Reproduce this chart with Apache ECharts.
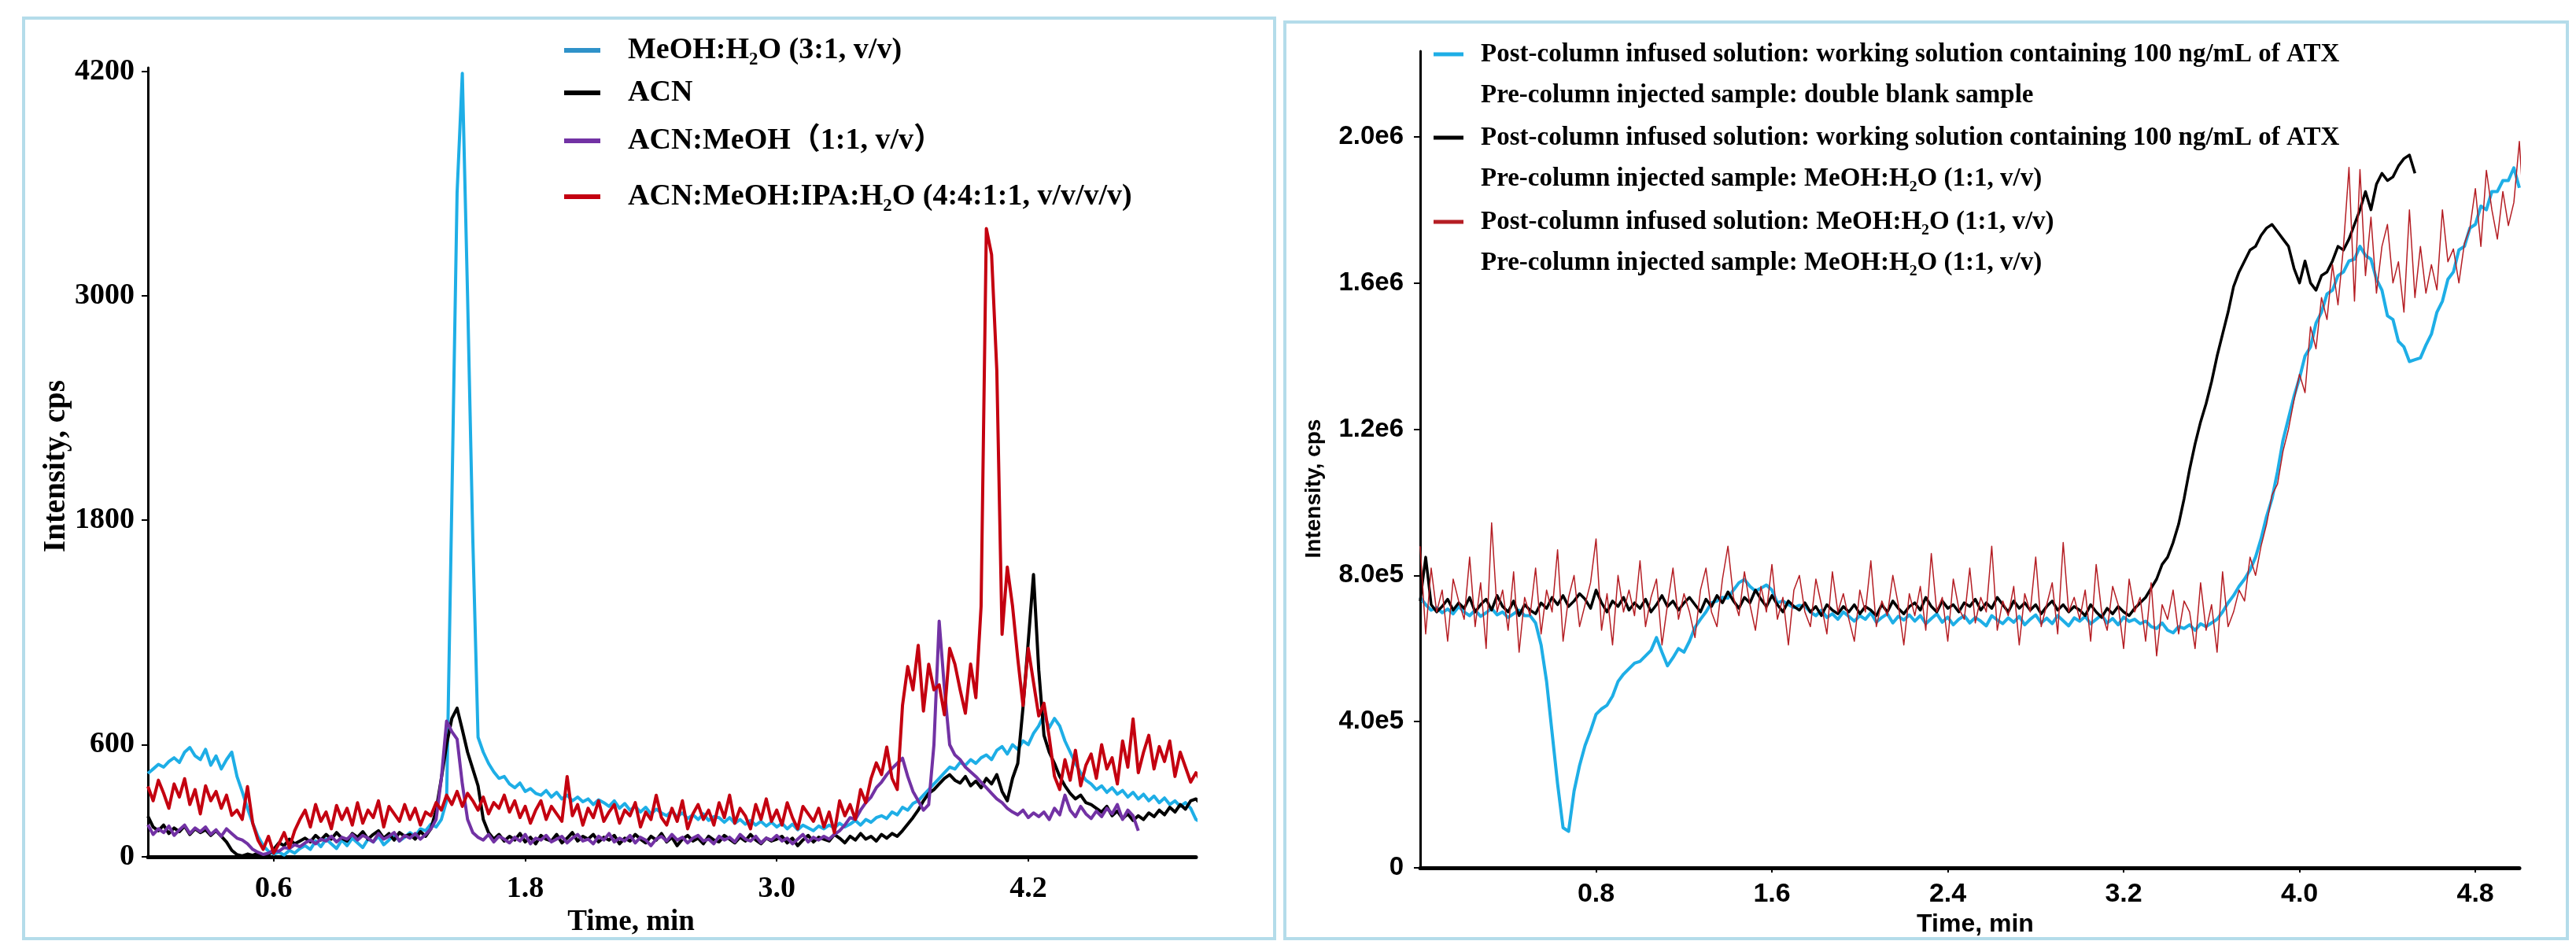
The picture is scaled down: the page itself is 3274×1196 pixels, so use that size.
<!DOCTYPE html>
<html>
<head>
<meta charset="utf-8">
<title>Matrix effect chromatograms</title>
<script src="https://cdn.jsdelivr.net/npm/echarts@6/dist/echarts.min.js"></script>
<style>
  html, body { margin: 0; padding: 0; background: #ffffff; }
  #chart { width: 3274px; height: 1196px; }
</style>
</head>
<body>
<div id="chart"></div>
<script>
// Sampling interval of the traces (min); every trace starts at 0 min.
const STEP = 0.025;

// ---- Left panel: extracted chromatograms of four solvent blanks (cps) ----
const leftTimeTicks = [0.6, 1.8, 3.0, 4.2];
const leftIntensityTicks = [0, 600, 1800, 3000, 4200];
const leftNames = [
  'MeOH:H₂O (3:1, v/v)',
  'ACN',
  'ACN:MeOH（1:1, v/v）',
  'ACN:MeOH:IPA:H₂O (4:4:1:1, v/v/v/v)'
];

const meohWater31 = [
  446, 470, 495, 480, 510, 530, 505, 560, 585, 540,
  520, 575, 490, 540, 470, 520, 560, 430, 348, 260,
  180, 110, 60, 30, 15, 25, 10, 35, 20, 45,
  60, 40, 85, 55, 95, 70, 45, 90, 60, 100,
  75, 50, 95, 80, 110, 65, 90, 120, 85, 105,
  130, 110, 150, 140, 175, 160, 200, 300, 1900, 3550,
  4190, 3000, 1700, 640, 560, 500, 455, 420, 430, 390,
  370, 395, 350, 365, 340, 330, 355, 320, 345, 310,
  330, 300, 320, 295, 310, 280, 305, 290, 270, 300,
  260, 285, 250, 270, 240, 265, 230, 255, 235, 220,
  245, 215, 235, 205, 225, 200, 230, 195, 215, 210,
  185, 210, 180, 200, 175, 195, 170, 190, 165, 185,
  160, 180, 150, 175, 145, 170, 155, 140, 165, 150,
  170, 155, 180, 160, 175, 195, 170, 200, 185, 210,
  220, 205, 240, 225, 265, 250, 285, 300, 330, 360,
  390, 420, 450, 480, 470, 505, 490, 520, 500, 530,
  545, 520, 570, 590, 550, 600, 575, 620, 600, 660,
  700, 760, 690, 740, 700, 620, 560, 500, 450, 410,
  390, 360, 380, 345, 370, 335, 355, 320, 345, 310,
  335, 300, 325, 290, 315, 280, 300, 270, 290, 260,
  200, 185
];

const acn = [
  218, 160, 140, 170, 125, 155, 135, 165, 120, 150,
  130, 145, 115, 140, 110, 80, 35, 12, 5, 15,
  8, 20, 5, 12, 40, 75, 60, 95, 70, 85,
  100, 80, 115, 90, 120, 95, 130, 100, 85, 125,
  105, 135, 95, 120, 140, 100, 125, 90, 130, 110,
  120, 95, 135, 110, 150, 250, 420, 600, 740, 795,
  680, 560, 470, 380, 200, 130, 95, 120, 85, 110,
  90, 125, 80, 105, 70, 115, 95, 85, 120, 75,
  100, 130, 85, 110, 95, 120, 80, 105, 90, 115,
  70, 100, 85, 120, 95, 75, 110, 90, 125, 80,
  105, 60, 95, 115, 85, 100, 70, 110, 90, 80,
  115, 95, 75, 105, 85, 120, 90, 70, 100, 85,
  95, 110, 75, 100, 60, 90, 115, 80, 105, 95,
  85, 120, 100, 75, 110, 90, 125, 95, 110, 85,
  120, 100, 125, 110, 140, 175, 210, 250, 300, 340,
  360, 390, 420, 440, 410, 395, 430, 380, 405, 370,
  420, 390, 440, 350, 300, 420, 500, 800, 1150, 1510,
  1000, 650, 560, 500, 430, 380, 340, 310, 330, 290,
  280, 260, 240, 270, 220, 245, 205, 230, 195, 220,
  200, 235, 215, 250, 225, 265, 240, 280, 255, 300,
  310, 280, 330, 295, 340, 300, 320, 270, 290, 250,
  220, 180, 160, 130, 190
];

const acnMeoh11 = [
  172, 120, 150, 130, 165, 115, 145, 170, 125, 155,
  135, 160, 120, 145, 110, 150, 125, 100, 90, 70,
  40, 25, 13, 20, 35, 30, 50, 45, 65, 55,
  75, 90, 70, 95, 85, 110, 80, 105, 95, 120,
  90, 115, 100, 80, 125, 95, 110, 130, 85, 115,
  100, 125, 95, 120, 150, 200, 420, 726, 670, 630,
  390, 200, 130, 105, 90, 120, 80, 110, 95, 75,
  105, 85, 120, 70, 100, 90, 115, 80, 95, 110,
  75, 100, 120, 85, 95, 70, 110, 90, 125, 80,
  100, 85, 115, 75, 105, 90, 60, 95, 110, 85,
  120, 90, 105, 75, 100, 115, 85, 95, 70, 110,
  90, 105, 80, 120, 95, 85, 110, 75, 100, 90,
  115, 85, 100, 70, 95, 120, 80, 105, 90, 110,
  95, 120, 140, 170, 210, 200, 250, 290, 320, 370,
  400, 440, 473, 500, 528, 430, 350, 300, 250, 280,
  600, 1260, 900, 600, 545, 520, 480, 455, 430, 400,
  370, 340, 310, 290, 260, 240, 225, 250, 210, 235,
  215, 240, 200, 260, 225, 330, 250, 215, 270, 230,
  205, 245, 215, 260, 230, 280, 200, 250, 220, 140
];

const acnMeohIpaWater = [
  377, 300, 410, 340, 260, 390, 320, 418, 280, 360,
  230, 380, 300, 350, 260, 330, 222, 250, 200, 376,
  180, 90, 40, 110, 20, 70, 130, 50, 140, 200,
  250, 160, 280, 190, 240, 150, 275, 200, 260, 170,
  290, 180, 250, 210, 300, 160, 270, 230, 190, 280,
  200, 260, 170, 240, 220, 290, 250, 330, 280, 350,
  270, 340, 300, 250, 320, 230, 290, 260, 330, 240,
  300, 210, 270, 180, 250, 300, 200, 270, 230, 190,
  430, 220, 280, 170, 260, 210, 300, 190, 240, 280,
  180, 250, 220, 290, 160, 240, 200, 330, 210, 170,
  260, 190, 300, 150, 230, 280, 200, 250, 170, 290,
  210, 330, 180, 260, 220, 150, 280, 200, 310, 190,
  250, 170, 290, 210, 150, 270, 230, 190, 260, 160,
  240, 130, 300, 220, 280, 200, 360, 290, 420, 503,
  440, 587, 420, 360, 809, 1018, 893, 1131, 780, 1030,
  893, 920, 760, 1115, 1031, 893, 768, 1031, 851, 1341,
  3360, 3220, 2600, 1190, 1550, 1341, 1060, 809, 1115, 934,
  754, 821, 641, 432, 360, 520, 410, 570, 380, 490,
  550, 420, 600, 470, 530, 390, 620, 480, 738, 450,
  560, 650, 470, 590, 510, 620, 430, 560, 480, 400,
  450, 400
];

// ---- Right panel: post-column infusion profiles (thousands of cps) ----
const rightTimeTicks = [0.8, 1.6, 2.4, 3.2, 4.0, 4.8];
const rightIntensityTicks = [0, 400, 800, 1200, 1600, 2000];
const rightNames = [
  'Post-column infused solution: working solution containing 100 ng/mL of ATX\nPre-column injected sample: double blank sample',
  'Post-column infused solution: working solution containing 100 ng/mL of ATX\nPre-column injected sample: MeOH:H₂O (1:1, v/v)',
  'Post-column infused solution: MeOH:H₂O (1:1, v/v)\nPre-column injected sample: MeOH:H₂O (1:1, v/v)'
];

const atxDoubleBlank = [
  740, 720, 705, 712, 698, 708, 695, 715, 700, 690,
  705, 688, 698, 710, 692, 700, 685, 695, 705, 690,
  690, 670, 610, 510, 370, 230, 110, 100, 210, 280,
  335, 375, 420, 435, 445, 470, 510, 530, 545, 560,
  565, 580, 595, 630, 590, 553, 575, 600, 590, 620,
  658, 680, 700, 725, 730, 740, 738, 760, 780, 789,
  770, 757, 765, 774, 760, 725, 730, 720, 712, 718,
  716, 700, 690, 705, 685, 695, 680, 700, 688, 675,
  690, 680, 698, 672, 685, 695, 670, 688, 678, 692,
  675, 690, 668, 682, 695, 672, 686, 665, 680, 690,
  670, 685, 675, 662, 690, 678, 668, 684, 672, 688,
  665, 680, 692, 670, 683, 668, 690, 676, 662, 684,
  675, 688, 668, 680, 692, 670, 682, 665, 686, 674,
  680, 668, 675, 660, 655, 670, 650, 643, 660, 655,
  665, 650, 668, 660, 670, 680, 700, 725, 745, 770,
  790, 815, 850, 900, 961, 1010, 1084, 1170, 1230, 1290,
  1340, 1400, 1425, 1490, 1520, 1570, 1580, 1620, 1630, 1660,
  1665, 1700, 1675, 1665, 1610, 1580, 1510, 1500, 1440, 1425,
  1385, 1390, 1395, 1430, 1460, 1520, 1550, 1610, 1630, 1690,
  1700, 1750, 1760, 1810, 1800, 1850, 1850, 1880, 1880, 1915,
  1860
];

const atxSolventBlank = [
  730, 850, 720, 700, 715, 735, 705, 725, 710, 740,
  700, 720, 735, 705, 745, 715, 700, 730, 690, 720,
  705, 695, 725, 710, 740, 720, 745, 715, 730, 750,
  735, 710, 760, 725, 700, 730, 715, 740, 705, 725,
  710, 735, 700, 720, 745, 715, 730, 705, 725, 740,
  720, 700, 735, 715, 745, 725, 755, 730, 710, 740,
  725, 760, 735, 715, 745, 720, 700, 730, 715, 705,
  725, 700, 715, 690, 720, 705, 695, 715, 700, 720,
  695, 715, 705, 690, 720, 700, 730, 710, 695, 715,
  725, 705, 740, 715, 700, 730, 710, 720, 700, 725,
  715, 735, 705, 725, 710, 740, 720, 700, 730, 710,
  725, 705, 720, 695, 715, 730, 705, 720, 700, 715,
  705, 690, 720, 700, 685, 710, 695, 715, 700, 690,
  710, 725, 740, 765, 790, 830, 850, 890, 940, 1010,
  1090, 1160, 1220, 1270, 1330, 1400, 1460, 1520, 1590, 1630,
  1660, 1690, 1700, 1730, 1750, 1760, 1740, 1720, 1700, 1640,
  1600, 1660, 1600, 1580, 1620, 1630, 1660, 1700, 1690, 1720,
  1760, 1800, 1850, 1800, 1870, 1900, 1880, 1890, 1920, 1940,
  1950, 1900
];

const solventSolventBlank = [
  880, 640, 820, 700, 760, 620, 790, 730, 680, 850,
  660, 780, 600, 944, 700, 760, 650, 810, 590, 740,
  690, 820, 640, 760, 700, 870, 620, 740, 800, 660,
  720, 780, 900, 650, 750, 610, 800, 700, 760, 690,
  840, 660, 740, 790, 610, 720, 820, 680, 750, 700,
  630, 760, 820, 700, 660, 790, 880, 740, 690, 810,
  720, 650, 770, 700, 830, 680, 740, 610, 760, 800,
  700, 660, 790, 720, 640, 810, 700, 750, 680, 620,
  760, 700, 840, 660, 730, 690, 800, 720, 610, 750,
  690, 770, 650, 860, 700, 740, 620, 790, 710, 680,
  820, 670, 740, 700, 880, 650, 730, 690, 770, 610,
  750, 700, 850, 660, 720, 780, 640, 890, 700, 740,
  680, 760, 620, 830, 700, 650, 770, 720, 600, 790,
  700, 740, 620, 780, 580, 720, 680, 760, 640, 730,
  700, 600, 780, 650, 720, 590, 810, 660, 700, 760,
  730, 850, 800, 880, 940, 1020, 1050, 1140, 1200, 1280,
  1350, 1300, 1480, 1420, 1560, 1500, 1650, 1540, 1700, 1916,
  1550, 1910, 1620, 1780, 1572, 1700, 1760, 1600, 1658, 1520,
  1800, 1560, 1700, 1572, 1650, 1581, 1800, 1658, 1693, 1600,
  1708, 1750, 1858, 1700, 1908, 1800, 1720, 1850, 1757, 1820,
  1987, 1750
];

// ---- styling ----
const SERIF = "'Liberation Serif', 'Times New Roman', 'Noto Sans CJK SC', serif";
const SANS = "'Liberation Sans', Arial, sans-serif";
const BLUE = '#1eaee6';
const BLACK = '#000000';
const PURPLE = '#7232a4';
const RED = '#c40010';
const RED_THIN = '#b51e24';

function toPoints(values) {
  return values.map((v, i) => [+(i * STEP).toFixed(3), v]);
}

function trace(name, values, color, width, grid) {
  return {
    type: 'line',
    name: name,
    xAxisIndex: grid,
    yAxisIndex: grid,
    data: toPoints(values),
    color: color,
    showSymbol: false,
    symbol: 'none',
    clip: false,
    animation: false,
    lineStyle: { color: color, width: width, join: 'round' },
    emphasis: { disabled: true }
  };
}

// One legend entry per component so each label line sits where it belongs.
function singleLegend(name, left, top, bottom, opts, markerColor) {
  const l = {
    data: [markerColor ? { name: name, itemStyle: { color: markerColor } } : name],
    orient: 'vertical',
    left: left,
    padding: 0,
    icon: 'rect',
    itemWidth: opts.w,
    itemHeight: opts.h,
    selectedMode: false,
    textStyle: {
      fontFamily: SERIF,
      fontWeight: 'bold',
      fontSize: opts.size,
      lineHeight: opts.lh,
      color: '#000',
      padding: opts.pad
    }
  };
  // two-line entries: a blank first line keeps the marker level with the first text line
  if (opts.twoLine) l.formatter = n => '\u00a0\n' + n;
  if (top !== null) l.top = top; else l.bottom = bottom;
  return l;
}

const leftLegendOpts = { w: 46, h: 6, size: 38, lh: 46, pad: [0, 0, 0, 30] };
const rightLegendOpts = { w: 38, h: 5, size: 33, lh: 52, pad: [0, 0, 0, 17], twoLine: true };

const option = {
  backgroundColor: '#ffffff',
  animation: false,
  grid: [
    { left: 188, right: 1754, top: 86, bottom: 103 },
    { left: 1805, right: 72, top: 65, bottom: 92 }
  ],
  xAxis: [
    {
      type: 'value', gridIndex: 0, min: 0, max: 5,
      axisLine: { show: true, lineStyle: { color: '#000', width: 5 } },
      axisTick: { show: true, customValues: leftTimeTicks, length: 6, lineStyle: { color: '#000', width: 2 } },
      axisLabel: {
        customValues: leftTimeTicks, margin: 22, color: '#000',
        fontFamily: SERIF, fontWeight: 'bold', fontSize: 38,
        formatter: v => v.toFixed(1)
      },
      splitLine: { show: false },
      name: 'Time, min', nameLocation: 'middle', nameGap: 62,
      nameTextStyle: { fontFamily: SERIF, fontWeight: 'bold', fontSize: 37, color: '#000', padding: [0, 104, 0, 0] }
    },
    {
      type: 'value', gridIndex: 1, min: 0, max: 5,
      axisLine: { show: true, lineStyle: { color: '#000', width: 5 } },
      axisTick: { show: true, customValues: rightTimeTicks, length: 6, lineStyle: { color: '#000', width: 2 } },
      axisLabel: {
        customValues: rightTimeTicks, margin: 17, color: '#000',
        fontFamily: SANS, fontWeight: 'bold', fontSize: 34,
        formatter: v => v.toFixed(1)
      },
      splitLine: { show: false },
      name: 'Time, min', nameLocation: 'middle', nameGap: 52,
      nameTextStyle: { fontFamily: SANS, fontWeight: 'bold', fontSize: 32, color: '#000', padding: [0, 0, 0, 14] }
    }
  ],
  yAxis: [
    {
      type: 'value', gridIndex: 0, min: 0, max: 4220,
      axisLine: { show: true, lineStyle: { color: '#000', width: 3 } },
      axisTick: { show: true, customValues: leftIntensityTicks, length: 8, lineStyle: { color: '#000', width: 2 } },
      axisLabel: {
        customValues: leftIntensityTicks, margin: 17, color: '#000',
        fontFamily: SERIF, fontWeight: 'bold', fontSize: 38,
        formatter: v => String(v)
      },
      splitLine: { show: false },
      name: 'Intensity, cps', nameLocation: 'middle', nameGap: 84,
      nameTextStyle: { fontFamily: SERIF, fontWeight: 'bold', fontSize: 39, color: '#000', padding: [0, 10, 0, 0] }
    },
    {
      type: 'value', gridIndex: 1, min: 0, max: 2234,
      axisLine: { show: true, lineStyle: { color: '#000', width: 3 } },
      axisTick: { show: true, customValues: rightIntensityTicks, length: 8, lineStyle: { color: '#000', width: 2 } },
      axisLabel: {
        customValues: rightIntensityTicks, margin: 21, color: '#000',
        fontFamily: SANS, fontWeight: 'bold', fontSize: 33,
        formatter: v => v === 0 ? '0' : (v * 1000).toExponential(1).replace('+', '')
      },
      splitLine: { show: false },
      name: 'Intensity, cps', nameLocation: 'middle', nameGap: 121,
      nameTextStyle: { fontFamily: SANS, fontWeight: 'bold', fontSize: 28, color: '#000', padding: [0, 74, 0, 0] }
    }
  ],
  legend: [
    singleLegend(leftNames[0], 717, 41, null, leftLegendOpts, '#2f92c9'),
    singleLegend(leftNames[1], 717, 95, null, leftLegendOpts),
    singleLegend(leftNames[2], 717, 156, null, leftLegendOpts),
    singleLegend(leftNames[3], 717, 227, null, leftLegendOpts),
    singleLegend(rightNames[0], 1822, null, 1049, rightLegendOpts),
    singleLegend(rightNames[1], 1822, null, 943, rightLegendOpts),
    singleLegend(rightNames[2], 1822, null, 836, rightLegendOpts)
  ],
  graphic: [
    { type: 'rect', silent: true, z: -10, shape: { x: 30, y: 23, width: 1590, height: 1170 },
      style: { fill: 'none', stroke: '#b4dcea', lineWidth: 4 } },
    { type: 'rect', silent: true, z: -10, shape: { x: 1633, y: 28, width: 1630, height: 1165 },
      style: { fill: 'none', stroke: '#b4dcea', lineWidth: 4 } }
  ],
  series: [
    trace(leftNames[0], meohWater31, BLUE, 4, 0),
    trace(leftNames[1], acn, BLACK, 4, 0),
    trace(leftNames[2], acnMeoh11, PURPLE, 4, 0),
    trace(leftNames[3], acnMeohIpaWater, RED, 4, 0),
    trace(rightNames[0], atxDoubleBlank, BLUE, 4, 1),
    trace(rightNames[1], atxSolventBlank, BLACK, 3.5, 1),
    trace(rightNames[2], solventSolventBlank, RED_THIN, 1.5, 1)
  ]
};

const chart = echarts.init(document.getElementById('chart'), null, { renderer: 'canvas' });
chart.setOption(option);
</script>
</body>
</html>
